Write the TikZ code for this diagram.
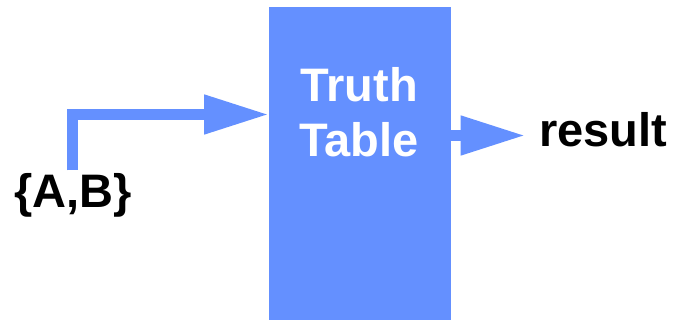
\documentclass[tikz,border=0pt]{standalone}
\usepackage{fontspec}
\setmainfont{Liberation Sans}
\usetikzlibrary{arrows.meta,positioning}
\definecolor{ttblue}{RGB}{100,144,255}

\begin{document}
\begin{tikzpicture}[x=1pt,y=-1pt,
  blk/.style={rectangle, fill=ttblue, inner sep=0pt, minimum width=182pt, minimum height=313pt, anchor=north west},
  lbl/.style={font=\fontsize{47}{55}\selectfont\bfseries, inner sep=0pt},
  wire/.style={draw=ttblue, line width=11pt, -{Triangle[length=65pt,width=37pt]}}
]
\useasboundingbox (0,0) rectangle (675,320);
\node[blk] (table) at (269,7) {};
\node[lbl, text=white, align=center, anchor=base] (tablelbl) at (359,157) {Truth\\Table};
\node[lbl, anchor=base west] (ab) at (14,208) {\{A,B\}};
\node[lbl, anchor=base west] (result) at (539,147) {result};
\coordinate (abtop) at (72.5,170.5);
\coordinate (outtip) at (525.5,135.5);
% input and output wires
\draw[wire] (abtop) |- (table.west |- 0,114.5);
\draw[wire] (table.east |- outtip) -- (outtip);
\end{tikzpicture}
\end{document}
